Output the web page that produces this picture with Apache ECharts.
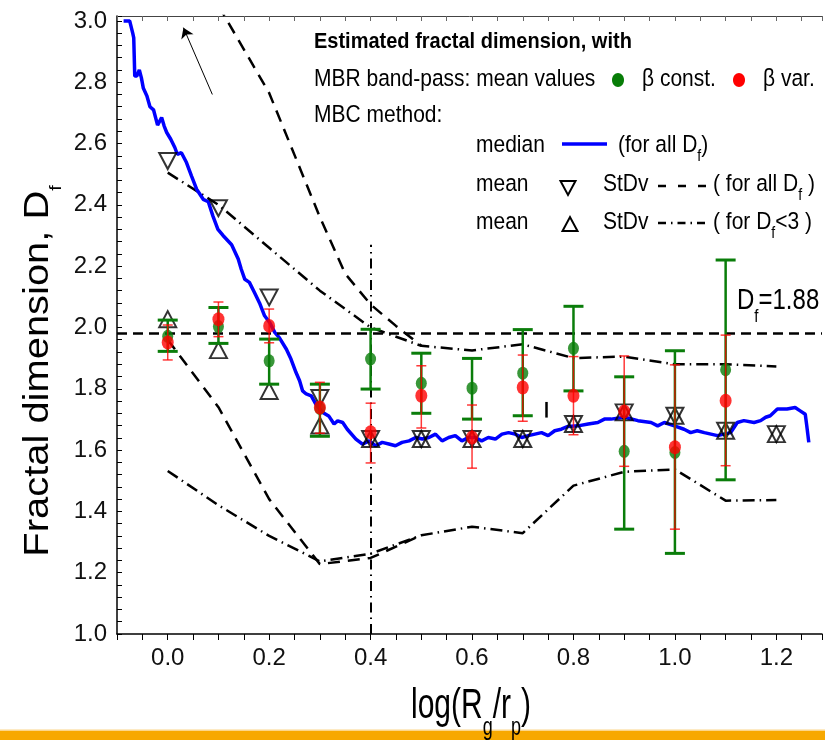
<!DOCTYPE html>
<html><head><meta charset="utf-8">
<script src="https://cdn.jsdelivr.net/npm/echarts@6/dist/echarts.min.js"></script>
<style>html,body{margin:0;padding:0;background:#fff}#c{width:825px;height:740px}</style>
</head><body><div id="c"></div>
<script>
// ---------- data ----------
const medX = [-0.087,-0.075,-0.069,-0.067,-0.065,-0.061,-0.056,-0.052,-0.048,-0.041,-0.035,-0.028,-0.020,-0.012,-0.007,-0.002,0.006,0.014,0.019,0.027,0.037,0.047,0.057,0.070,0.080,0.089,0.099,0.109,0.126,0.139,0.145,0.152,0.161,0.171,0.181,0.191,0.201,0.211,0.220,0.234,0.243,0.253,0.260,0.266,0.273,0.283,0.292,0.305,0.318,0.328,0.335,0.345,0.354,0.371,0.384,0.397,0.410,0.423,0.436,0.449,0.462,0.476,0.489,0.502,0.515,0.528,0.541,0.554,0.567,0.580,0.593,0.606,0.619,0.632,0.646,0.659,0.672,0.685,0.698,0.711,0.724,0.737,0.750,0.763,0.776,0.789,0.809,0.829,0.848,0.861,0.874,0.901,0.927,0.953,0.966,0.979,0.999,1.018,1.031,1.044,1.058,1.071,1.084,1.097,1.110,1.123,1.136,1.156,1.169,1.179,1.188,1.202,1.221,1.237,1.247,1.257,1.260,1.264];
const medY = [3.0,3.0,2.96,2.945,2.82,2.82,2.84,2.815,2.78,2.755,2.72,2.71,2.66,2.685,2.657,2.636,2.614,2.587,2.565,2.57,2.538,2.494,2.451,2.418,2.41,2.364,2.32,2.30,2.27,2.223,2.19,2.157,2.147,2.114,2.08,2.038,2.016,1.984,1.967,1.929,1.897,1.853,1.826,1.793,1.783,1.777,1.75,1.723,1.71,1.685,1.695,1.69,1.668,1.636,1.619,1.63,1.614,1.625,1.62,1.614,1.625,1.63,1.641,1.636,1.641,1.652,1.63,1.641,1.647,1.63,1.641,1.641,1.63,1.641,1.636,1.652,1.657,1.652,1.641,1.647,1.652,1.657,1.647,1.663,1.668,1.677,1.679,1.685,1.69,1.701,1.701,1.707,1.696,1.69,1.679,1.69,1.679,1.668,1.657,1.663,1.657,1.652,1.647,1.652,1.657,1.69,1.696,1.69,1.696,1.707,1.712,1.734,1.734,1.739,1.728,1.717,1.679,1.625];

const ptX      = [0.0, 0.1, 0.2, 0.3, 0.4, 0.5, 0.6, 0.7, 0.8, 0.9, 1.0, 1.1];
const greenMean= [1.971,2.003,1.891,1.736,1.897,1.818,1.802,1.851,1.932,1.596,1.592,1.862];
const greenLo  = [1.922,1.948,1.815,1.645,1.799,1.720,1.701,1.712,1.793,1.342,1.263,1.503];
const greenHi  = [2.024,2.065,1.962,1.815,1.994,1.916,1.899,1.993,2.069,1.839,1.924,2.220];
const redMean  = [1.951,2.027,2.005,1.739,1.658,1.777,1.641,1.804,1.777,1.726,1.609,1.761];
const redLo    = [1.894,1.970,1.950,1.655,1.558,1.672,1.541,1.694,1.650,1.547,1.342,1.549];
const redHi    = [2.008,2.083,2.060,1.821,1.753,1.875,1.747,1.910,1.905,1.907,1.878,1.975];

const triX     = [0.0, 0.1, 0.2, 0.3, 0.4, 0.5, 0.6, 0.7, 0.8, 0.9, 1.0, 1.1, 1.2];
const meanAll  = [2.543,2.389,2.098,1.770,1.636,1.636,1.636,1.636,1.685,1.723,1.712,1.663,1.652];
const meanLt3  = [2.027,1.926,1.793,1.680,1.636,1.636,1.636,1.636,1.685,1.723,1.712,1.663,1.652];

const sdAllUpX = [0.1, 0.2, 0.3, 0.35, 0.4, 0.45, 0.5];
const sdAllUp  = [3.05,2.765,2.36,2.175,2.075,2.005,1.94];
const sdAllLoX = [0.0, 0.1, 0.2, 0.3, 0.4, 0.5];
const sdAllLo  = [1.96,1.74,1.44,1.228,1.248,1.322];
const sdLt3X   = [0.0, 0.1, 0.2, 0.3, 0.4, 0.5, 0.6, 0.7, 0.8, 0.9, 1.0, 1.1, 1.2];
const sdLt3Up  = [2.505,2.40,2.26,2.12,2.0,1.94,1.925,1.945,1.90,1.905,1.88,1.88,1.873];
const sdLt3Lo  = [1.532,1.42,1.32,1.237,1.262,1.322,1.35,1.329,1.484,1.529,1.537,1.435,1.437];

const dfLine   = 1.98;            // horizontal reference line
const vLine    = [0.4, 1.0, 2.27]; // x, from y, to y
const arrowFrom= [0.088, 2.76];
const arrowTo  = [0.031, 2.978];
const smallBar = [0.747, 1.706, 1.757];

const xTickLabels = ['0.0','0.2','0.4','0.6','0.8','1.0','1.2'];
const yTickLabels = ['1.0','1.2','1.4','1.6','1.8','2.0','2.2','2.4','2.6','2.8','3.0'];

// ---------- helpers ----------
const FONT = '"Liberation Sans", Arial, Helvetica, sans-serif';
const zip = (a, b) => a.map((v, i) => [v, b[i]]);
function errBar(color, lw, capW, capLw, op) {
  return function (params, api) {
    const x = api.value(0);
    const lo = api.coord([x, api.value(1)]);
    const hi = api.coord([x, api.value(2)]);
    const st = {stroke: color, lineWidth: lw, opacity: op};
    const cs = {stroke: color, lineWidth: capLw, opacity: op};
    return {type: 'group', children: [
      {type: 'line', shape: {x1: hi[0], y1: hi[1], x2: lo[0], y2: lo[1]}, style: st},
      {type: 'line', shape: {x1: hi[0] - capW / 2, y1: hi[1], x2: hi[0] + capW / 2, y2: hi[1]}, style: cs},
      {type: 'line', shape: {x1: lo[0] - capW / 2, y1: lo[1], x2: lo[0] + capW / 2, y2: lo[1]}, style: cs}
    ]};
  };
}
function xLabel(v) {
  const k = Math.round(v * 100);
  if (k % 20 !== 0) return '';
  const s = (k / 100).toFixed(1);
  return xTickLabels.indexOf(s) >= 0 ? s : '';
}
function yLabel(v) {
  const k = Math.round(v * 100);
  if (Math.abs(v * 100 - k) > 0.01 || k % 20 !== 0) return '';
  const s = (k / 100).toFixed(1);
  return yTickLabels.indexOf(s) >= 0 ? s : '';
}

const chart = echarts.init(document.getElementById('c'), null, {renderer: 'canvas'});

const SY = 1.14; // vertical stretch of the reference lettering
function plain(x, y, str, extra) {
  return {type: 'text', x: x, y: y, z: 100, scaleY: SY,
    style: Object.assign({text: str, fill: '#000', fontFamily: FONT, fontSize: 21, align: 'left', verticalAlign: 'middle'}, extra || {})};
}
function richText(x, y, str, mainSize, subSize, lh, sy) {
  return {
    type: 'text', x: x, y: y, z: 100, scaleY: sy,
    style: {
      text: str, align: 'left', verticalAlign: 'middle',
      rich: {
        n: {fontFamily: FONT, fontSize: mainSize, lineHeight: lh, fill: '#000'},
        s: {fontFamily: FONT, fontSize: subSize, lineHeight: subSize, verticalAlign: 'bottom', fill: '#000'}
      }
    }
  };
}

const graphic = [
  {type: 'rect', shape: {x: 0, y: 731, width: 825, height: 9}, style: {fill: '#f7a800'}, z: 1},
  {type: 'rect', shape: {x: 0, y: 729.5, width: 825, height: 1.5}, style: {fill: '#fcd68a'}, z: 1},
  plain(314, 42, 'Estimated fractal dimension, with', {fontSize: 20, fontWeight: 'bold'}),
  plain(314, 79, 'MBR band-pass: mean values'),
  {type: 'ellipse', shape: {cx: 618, cy: 80, rx: 6, ry: 7}, style: {fill: '#077d07'}, z: 100},
  plain(642, 79, 'β const.'),
  {type: 'ellipse', shape: {cx: 739, cy: 80, rx: 6, ry: 7}, style: {fill: '#ff0000'}, z: 100},
  plain(763, 79, 'β var.'),
  plain(314, 115, 'MBC method:'),
  plain(476, 145, 'median'),
  {type: 'line', shape: {x1: 562, y1: 144, x2: 607, y2: 144}, style: {stroke: '#0000ff', lineWidth: 3.5}, z: 100},
  richText(618, 145, '{n|(for all D}{s|f}{n|)}', 21, 14, 35, SY),
  plain(476, 184, 'mean'),
  {type: 'polygon', shape: {points: [[560.5, 181], [575.5, 181], [568, 195]]}, style: {fill: 'none', stroke: '#000', lineWidth: 2}, z: 100},
  plain(603, 184, 'StDv'),
  {type: 'line', shape: {x1: 658, y1: 186, x2: 711, y2: 186}, style: {stroke: '#000', lineWidth: 2.5, lineDash: [8, 12]}, z: 100},
  richText(713, 184, '{n|( for all D}{s|f}{n| )}', 21, 14, 35, SY),
  plain(476, 222, 'mean'),
  {type: 'polygon', shape: {points: [[562.5, 231], [577.5, 231], [570, 217]]}, style: {fill: 'none', stroke: '#000', lineWidth: 2}, z: 100},
  plain(603, 222, 'StDv'),
  {type: 'line', shape: {x1: 658, y1: 223, x2: 708, y2: 223}, style: {stroke: '#000', lineWidth: 2.5, lineDash: [8, 5, 1.5, 5]}, z: 100},
  richText(713, 222, '{n|( for D}{s|f}{n|<3 )}', 21, 14, 35, SY),
  richText(737, 301, '{n|D}{s|f}{n|=1.88}', 24, 15, 42, 1.2),
  // axis titles
  {type: 'text', x: 471, y: 706, z: 100, scaleY: 1.4, style: {text: '{n|log(R}{s|g}{n|/r}{s|p}{n|)}', align: 'center', verticalAlign: 'middle',
     rich: {n: {fontFamily: FONT, fontSize: 30, lineHeight: 50, fill: '#000'}, s: {fontFamily: FONT, fontSize: 18, lineHeight: 18, verticalAlign: 'bottom', fill: '#000'}}}},
  {type: 'text', x: 38, y: 371, rotation: Math.PI / 2, scaleX: 1.14, z: 100, style: {text: '{n|Fractal dimension, D}{s|f}', align: 'center', verticalAlign: 'middle',
     rich: {n: {fontFamily: FONT, fontSize: 35, lineHeight: 54, fill: '#000'}, s: {fontFamily: FONT, fontSize: 17, lineHeight: 17, verticalAlign: 'bottom', fill: '#000'}}}}
];

const option = {
  animation: false,
  backgroundColor: '#fff',
  grid: {left: 117, right: 0, top: 16, bottom: 106, containLabel: false},
  xAxis: [
    {type: 'value', position: 'bottom', min: -0.1, max: 1.29, interval: 0.05,
     axisLine: {show: true, onZero: false, lineStyle: {color: '#000', width: 1.5}},
     axisTick: {show: true, inside: false, length: 6, lineStyle: {color: '#000', width: 1}},
     axisLabel: {show: true, interval: 0, formatter: xLabel, margin: 12, fontFamily: FONT, fontSize: 24, color: '#111', showMaxLabel: true, showMinLabel: true},
     splitLine: {show: false}},
    {type: 'value', position: 'top', min: -0.1, max: 1.29, interval: 0.05,
     axisLine: {show: true, onZero: false, lineStyle: {color: '#444', width: 1}},
     axisTick: {show: true, inside: true, length: 5, lineStyle: {color: '#666', width: 1}},
     axisLabel: {show: false}, splitLine: {show: false}}
  ],
  yAxis: {type: 'value', min: 1.0, max: 3.016, interval: 0.04,
    axisLine: {show: true, onZero: false, lineStyle: {color: '#000', width: 1.5}},
    axisTick: {show: true, inside: true, length: 5, lineStyle: {color: '#000', width: 1}},
    axisLabel: {show: true, interval: 0, formatter: yLabel, margin: 10, fontFamily: FONT, fontSize: 24, color: '#111'},
    splitLine: {show: false}},
  graphic: graphic,
  series: [
    {name: 'refs', type: 'line', data: [], z: 2, silent: true,
     markLine: {silent: true, symbol: ['none', 'none'], label: {show: false}, animation: false,
       data: [
         [{coord: [-0.1, dfLine], lineStyle: {color: '#000', width: 2.5, type: [10, 6]}}, {coord: [1.29, dfLine]}],
         [{coord: [vLine[0], vLine[1]], lineStyle: {color: '#000', width: 2, type: [10, 5, 1.5, 5]}}, {coord: [vLine[0], vLine[2]]}],
         [{coord: arrowFrom, lineStyle: {color: '#000', width: 1, type: 'solid'}}, {coord: arrowTo, symbol: 'arrow', symbolSize: 10}],
         [{coord: [smallBar[0], smallBar[1]], lineStyle: {color: '#000', width: 2.5, type: 'solid'}}, {coord: [smallBar[0], smallBar[2]]}]
       ]}},
    {name: 'StDv all upper', type: 'line', data: zip(sdAllUpX, sdAllUp), showSymbol: false, z: 2,
     lineStyle: {color: '#000', width: 2.5, type: [12, 8]}},
    {name: 'StDv all lower', type: 'line', data: zip(sdAllLoX, sdAllLo), showSymbol: false, z: 2,
     lineStyle: {color: '#000', width: 2.5, type: [12, 8]}},
    {name: 'StDv <3 upper', type: 'line', data: zip(sdLt3X, sdLt3Up), showSymbol: false, z: 2,
     lineStyle: {color: '#000', width: 2.5, type: [12, 5, 1.5, 5]}},
    {name: 'StDv <3 lower', type: 'line', data: zip(sdLt3X, sdLt3Lo), showSymbol: false, z: 2,
     lineStyle: {color: '#000', width: 2.5, type: [12, 5, 1.5, 5]}},
    {name: 'median', type: 'line', data: zip(medX, medY), showSymbol: false, z: 3,
     lineStyle: {color: '#0000ff', width: 3.5}},
    {name: 'mean all', type: 'scatter', data: zip(triX, meanAll), symbol: 'triangle', symbolRotate: 180, symbolSize: [17, 16], z: 4,
     itemStyle: {color: 'rgba(0,0,0,0)', borderColor: '#000', borderWidth: 2}},
    {name: 'mean <3', type: 'scatter', data: zip(triX, meanLt3), symbol: 'triangle', symbolSize: [17, 16], z: 4,
     itemStyle: {color: 'rgba(0,0,0,0)', borderColor: '#000', borderWidth: 2}},
    {name: 'green err', type: 'custom', z: 5, renderItem: errBar('#0a7d0a', 2.5, 20, 3, 1),
     encode: {x: 0, y: [1, 2]}, data: ptX.map((x, i) => [x, greenLo[i], greenHi[i]])},
    {name: 'β const.', type: 'scatter', data: zip(ptX, greenMean), symbol: 'circle', symbolSize: [11, 13], z: 6,
     itemStyle: {color: '#077d07'}},
    {name: 'red err', type: 'custom', z: 7, renderItem: errBar('#ff0000', 1.5, 10, 1.5, 0.78),
     encode: {x: 0, y: [1, 2]}, data: ptX.map((x, i) => [x, redLo[i], redHi[i]])},
    {name: 'β var.', type: 'scatter', data: zip(ptX, redMean), symbol: 'circle', symbolSize: [12, 14], z: 8,
     itemStyle: {color: '#ff0000'}}
  ]
};
chart.setOption(option);
</script>
</body></html>
